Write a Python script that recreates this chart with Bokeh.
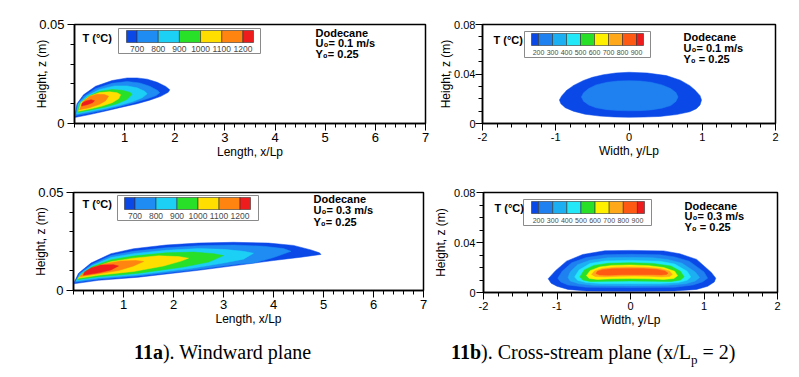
from bokeh.plotting import figure
from bokeh.models import Range1d, FixedTicker, CustomJSTickFormatter, Label, Div
from bokeh.layouts import column, row
from bokeh.embed import file_html
from bokeh.resources import INLINE

# ---------------- data ----------------
LEVELS_A = [700, 800, 900, 1000, 1100, 1200]
COLORS_A = ["#0a48e8", "#1e8cf2", "#1cd0f5", "#28e028", "#ffde00", "#ff8410", "#ee1c1c"]
LEVELS_B = [200, 300, 400, 500, 600, 700, 800, 900]
COLORS_B = ["#0a48e8", "#1f80f0", "#1cb0f2", "#22e8f8", "#28e028", "#fff000",
            "#ffa81a", "#ff5a14", "#ee1c1c"]

X_TICKS_L = [1, 2, 3, 4, 5, 6, 7]
X_TICKS_W = [-2, -1, 0, 1, 2]
Z_TICKS_L = [0, 0.05]
Z_TICKS_W = [0, 0.04, 0.08]

# Panel 1: windward plane, U0 = 0.1 m/s (contours from outer to inner)
P1_BAND = [0, 1, 2, 3, 4, 5, 6]
P1_X = [
    [0.0, 0.3, 0.6, 0.9, 1.25, 1.5, 1.72, 1.87, 1.9, 1.82, 1.65, 1.45, 1.25, 1.05, 0.75, 0.42, 0.18, 0.05, 0.0],
    [0.02, 0.3, 0.6, 0.9, 1.2, 1.45, 1.62, 1.7, 1.65, 1.5, 1.3, 1.05, 0.75, 0.42, 0.19, 0.06, 0.02],
    [0.04, 0.3, 0.6, 0.9, 1.15, 1.35, 1.45, 1.4, 1.25, 1.05, 0.8, 0.5, 0.25, 0.08, 0.04],
    [0.06, 0.3, 0.6, 0.85, 1.05, 1.15, 1.1, 0.95, 0.75, 0.5, 0.28, 0.1, 0.06],
    [0.08, 0.3, 0.55, 0.75, 0.88, 0.92, 0.85, 0.7, 0.5, 0.3, 0.13, 0.08],
    [0.1, 0.3, 0.5, 0.62, 0.68, 0.6, 0.45, 0.3, 0.17, 0.1],
    [0.14, 0.25, 0.36, 0.4, 0.33, 0.22, 0.15, 0.14],
]
P1_Z = [
    [0.0030, 0.0045, 0.0062, 0.0080, 0.0100, 0.0118, 0.0137, 0.0158, 0.0170, 0.0187, 0.0208, 0.0224, 0.0230, 0.0230, 0.0217, 0.0188, 0.0145, 0.0100, 0.0030],
    [0.0040, 0.0053, 0.0068, 0.0086, 0.0106, 0.0125, 0.0140, 0.0155, 0.0168, 0.0188, 0.0205, 0.0212, 0.0203, 0.0176, 0.0138, 0.0098, 0.0040],
    [0.0048, 0.0060, 0.0075, 0.0092, 0.0110, 0.0130, 0.0150, 0.0163, 0.0180, 0.0190, 0.0190, 0.0172, 0.0140, 0.0100, 0.0048],
    [0.0055, 0.0067, 0.0082, 0.0100, 0.0122, 0.0148, 0.0158, 0.0168, 0.0172, 0.0163, 0.0138, 0.0100, 0.0055],
    [0.0062, 0.0073, 0.0088, 0.0105, 0.0125, 0.0145, 0.0155, 0.0160, 0.0156, 0.0138, 0.0105, 0.0062],
    [0.0070, 0.0080, 0.0097, 0.0115, 0.0138, 0.0146, 0.0148, 0.0136, 0.0110, 0.0070],
    [0.0088, 0.0095, 0.0105, 0.0115, 0.0120, 0.0113, 0.0102, 0.0088],
]

# Panel 2: cross-stream plane, U0 = 0.1 m/s
P2_BAND = [0, 1]
P2_X = [
    [-0.95, -0.93, -0.87, -0.76, -0.6, -0.4, -0.2, 0.0, 0.2, 0.42, 0.65, 0.83, 0.92, 0.97, 0.99, 0.97, 0.9, 0.83, 0.7, 0.51, 0.25, 0.0, -0.18, -0.35, -0.5, -0.62, -0.75, -0.85, -0.92, -0.95],
    [-0.65, -0.62, -0.55, -0.45, -0.3, -0.15, 0.0, 0.15, 0.3, 0.45, 0.57, 0.64, 0.67, 0.64, 0.57, 0.45, 0.3, 0.15, 0.0, -0.15, -0.3, -0.45, -0.55, -0.62, -0.65],
]
P2_Z = [
    [0.0190, 0.0160, 0.0128, 0.0100, 0.0075, 0.0060, 0.0053, 0.0050, 0.0052, 0.0057, 0.0072, 0.0095, 0.0120, 0.0150, 0.0190, 0.0225, 0.0270, 0.0306, 0.0350, 0.0387, 0.0408, 0.0414, 0.0408, 0.0394, 0.0373, 0.0348, 0.0310, 0.0268, 0.0222, 0.0190],
    [0.0215, 0.0180, 0.0150, 0.0127, 0.0112, 0.0105, 0.0103, 0.0104, 0.0110, 0.0124, 0.0145, 0.0178, 0.0215, 0.0250, 0.0282, 0.0312, 0.0333, 0.0343, 0.0346, 0.0343, 0.0333, 0.0312, 0.0282, 0.0248, 0.0215],
]

# Panel 3: windward plane, U0 = 0.3 m/s
P3_BAND = [0, 1, 2, 3, 4, 5, 6]
P3_X = [
    [0.0, 0.5, 1.3, 2.5, 3.5, 4.0, 4.55, 4.95, 4.92, 4.75, 4.4, 3.9, 3.2, 2.5, 1.85, 1.2, 0.75, 0.35, 0.1, 0.0],
    [0.03, 0.5, 1.3, 2.5, 3.3, 3.6, 4.0, 4.35, 4.2, 3.8, 3.2, 2.5, 1.85, 1.2, 0.75, 0.36, 0.12, 0.03],
    [0.05, 0.5, 1.3, 2.4, 3.0, 3.4, 3.6, 3.4, 3.0, 2.5, 1.85, 1.2, 0.75, 0.37, 0.14, 0.05],
    [0.07, 0.5, 1.3, 2.2, 2.7, 3.0, 2.8, 2.4, 1.85, 1.2, 0.75, 0.38, 0.16, 0.07],
    [0.09, 0.5, 1.2, 1.8, 2.15, 2.3, 2.1, 1.7, 1.2, 0.75, 0.4, 0.18, 0.09],
    [0.12, 0.5, 0.9, 1.2, 1.4, 1.25, 0.95, 0.65, 0.38, 0.2, 0.12],
    [0.2, 0.5, 0.75, 0.9, 0.8, 0.55, 0.35, 0.22, 0.2],
]
P3_Z = [
    [0.0034, 0.0052, 0.0068, 0.0103, 0.0136, 0.0153, 0.0170, 0.0184, 0.0192, 0.0207, 0.0230, 0.0242, 0.0246, 0.0242, 0.0232, 0.0213, 0.0188, 0.0140, 0.0088, 0.0034],
    [0.0042, 0.0058, 0.0074, 0.0108, 0.0135, 0.0140, 0.0168, 0.0200, 0.0214, 0.0226, 0.0232, 0.0228, 0.0218, 0.0200, 0.0178, 0.0133, 0.0087, 0.0042],
    [0.0048, 0.0064, 0.0080, 0.0115, 0.0140, 0.0160, 0.0190, 0.0200, 0.0210, 0.0214, 0.0205, 0.0188, 0.0168, 0.0127, 0.0085, 0.0048],
    [0.0055, 0.0070, 0.0088, 0.0120, 0.0145, 0.0178, 0.0188, 0.0196, 0.0192, 0.0176, 0.0157, 0.0122, 0.0084, 0.0055],
    [0.0062, 0.0078, 0.0097, 0.0125, 0.0150, 0.0165, 0.0173, 0.0177, 0.0165, 0.0147, 0.0117, 0.0084, 0.0062],
    [0.0070, 0.0085, 0.0102, 0.0125, 0.0148, 0.0153, 0.0150, 0.0138, 0.0113, 0.0088, 0.0070],
    [0.0078, 0.0090, 0.0105, 0.0125, 0.0132, 0.0130, 0.0115, 0.0095, 0.0078],
]

# Panel 4: cross-stream plane, U0 = 0.3 m/s
P4_BAND = [0, 1, 2, 3, 4, 5, 6, 7]
P4_X = [
    [-1.12, -1.08, -1.0, -0.85, -0.6, 0.0, 0.6, 0.9, 1.05, 1.14, 1.16, 1.1, 0.9, 0.67, 0.45, 0.0, -0.35, -0.65, -0.87, -1.02, -1.12],
    [-0.99, -0.95, -0.85, -0.6, 0.0, 0.6, 0.85, 0.98, 1.05, 1.0, 0.8, 0.6, 0.4, 0.0, -0.35, -0.6, -0.8, -0.93, -0.99],
    [-0.85, -0.82, -0.7, -0.5, 0.0, 0.5, 0.75, 0.88, 0.94, 0.88, 0.7, 0.5, 0.3, 0.0, -0.3, -0.55, -0.72, -0.82, -0.85],
    [-0.76, -0.72, -0.6, -0.4, 0.0, 0.4, 0.65, 0.77, 0.82, 0.77, 0.6, 0.4, 0.0, -0.35, -0.55, -0.7, -0.76],
    [-0.69, -0.65, -0.55, -0.3, 0.0, 0.3, 0.55, 0.68, 0.73, 0.68, 0.55, 0.3, 0.0, -0.3, -0.5, -0.63, -0.69],
    [-0.6, -0.56, -0.45, -0.25, 0.0, 0.25, 0.45, 0.59, 0.64, 0.6, 0.45, 0.25, 0.0, -0.25, -0.42, -0.55, -0.6],
    [-0.53, -0.48, -0.35, -0.15, 0.05, 0.25, 0.42, 0.53, 0.57, 0.53, 0.4, 0.2, 0.0, -0.2, -0.38, -0.49, -0.53],
    [-0.47, -0.42, -0.3, -0.1, 0.1, 0.3, 0.42, 0.49, 0.51, 0.47, 0.35, 0.15, -0.05, -0.25, -0.38, -0.45, -0.47],
]
P4_Z = [
    [0.0110, 0.0075, 0.0050, 0.0025, 0.0013, 0.0010, 0.0013, 0.0025, 0.0050, 0.0085, 0.0115, 0.0160, 0.0265, 0.0310, 0.0333, 0.0337, 0.0334, 0.0304, 0.0251, 0.0175, 0.0110],
    [0.0115, 0.0085, 0.0060, 0.0042, 0.0040, 0.0042, 0.0060, 0.0085, 0.0115, 0.0165, 0.0250, 0.0285, 0.0302, 0.0306, 0.0302, 0.0280, 0.0238, 0.0170, 0.0115],
    [0.0120, 0.0092, 0.0070, 0.0058, 0.0055, 0.0058, 0.0070, 0.0092, 0.0120, 0.0165, 0.0235, 0.0265, 0.0278, 0.0281, 0.0278, 0.0258, 0.0222, 0.0165, 0.0120],
    [0.0125, 0.0098, 0.0080, 0.0073, 0.0072, 0.0073, 0.0080, 0.0098, 0.0125, 0.0170, 0.0228, 0.0250, 0.0257, 0.0252, 0.0232, 0.0180, 0.0125],
    [0.0125, 0.0100, 0.0088, 0.0090, 0.0092, 0.0090, 0.0088, 0.0100, 0.0125, 0.0170, 0.0212, 0.0233, 0.0238, 0.0234, 0.0217, 0.0180, 0.0125],
    [0.0135, 0.0112, 0.0105, 0.0110, 0.0112, 0.0110, 0.0105, 0.0112, 0.0135, 0.0170, 0.0200, 0.0215, 0.0220, 0.0217, 0.0204, 0.0175, 0.0135],
    [0.0145, 0.0128, 0.0125, 0.0130, 0.0132, 0.0130, 0.0125, 0.0128, 0.0145, 0.0172, 0.0193, 0.0202, 0.0205, 0.0203, 0.0193, 0.0172, 0.0145],
    [0.0152, 0.0140, 0.0138, 0.0142, 0.0143, 0.0142, 0.0140, 0.0145, 0.0155, 0.0172, 0.0186, 0.0192, 0.0193, 0.0191, 0.0183, 0.0170, 0.0152],
]

FUEL = "Dodecane"
INFO_1 = ["U\u2080= 0.1 m/s", "Y\u2080= 0.25"]
INFO_2 = ["U\u2080= 0.1 m/s", "Y\u2080 = 0.25"]
INFO_3 = ["U\u2080= 0.3 m/s", "Y\u2080= 0.25"]
INFO_4 = ["U\u2080= 0.3 m/s", "Y\u2080 = 0.25"]

# ---------------- styling / layout ----------------
FONT = "Liberation Sans"


def build(canvas, frame, xr, zr, xticks, xminor, zticks, zminor, xlabel,
          tick_fs, zlabel_standoff, zlabel_tick_standoff):
    cl, ct, cw, ch = canvas
    L, R, T, B = frame
    p = figure(frame_width=R - L, frame_height=B - T,
               min_border_left=L - cl, min_border_right=cl + cw - R,
               min_border_top=T - ct, min_border_bottom=ct + ch - B,
               x_range=Range1d(*xr), y_range=Range1d(*zr),
               output_backend="svg", toolbar_location=None,
               background_fill_color="white", border_fill_color="white")
    p.grid.visible = False
    p.outline_line_color = "black"
    p.outline_line_width = 1.5
    p.outline_line_alpha = 1.0
    for ax in (p.xaxis[0], p.yaxis[0]):
        ax.axis_line_width = 1.5
        ax.axis_line_color = "black"
        ax.major_tick_in = 0
        ax.major_tick_out = 7
        ax.minor_tick_in = 0
        ax.minor_tick_out = 4
        ax.major_tick_line_color = "black"
        ax.minor_tick_line_color = "black"
        ax.major_label_text_font = FONT
        ax.major_label_text_font_size = tick_fs
        ax.major_label_text_color = "black"
        ax.axis_label_text_font = FONT
        ax.axis_label_text_font_size = "12px"
        ax.axis_label_text_font_style = "normal"
        ax.axis_label_text_color = "black"
    p.xaxis[0].ticker = FixedTicker(ticks=xticks, minor_ticks=xminor)
    p.yaxis[0].ticker = FixedTicker(ticks=zticks, minor_ticks=zminor)
    p.xaxis[0].formatter = CustomJSTickFormatter(code="return String(tick);")
    p.yaxis[0].formatter = CustomJSTickFormatter(
        code="return String(Math.round(tick * 1000) / 1000);")
    p.xaxis[0].axis_label = xlabel
    p.yaxis[0].axis_label = "Height, z (m)"
    p.xaxis[0].major_label_standoff = 2
    p.xaxis[0].axis_label_standoff = 0
    p.yaxis[0].major_label_standoff = zlabel_tick_standoff
    p.yaxis[0].axis_label_standoff = zlabel_standoff

    def cx(px):
        return xr[0] + (px - L) / (R - L) * (xr[1] - xr[0])

    def cz(py):
        return zr[0] + (B - py) / (B - T) * (zr[1] - zr[0])

    return p, cx, cz


def draw_bands(p, xs, zs, bands, colors):
    for x, z, b in zip(xs, zs, bands):
        p.patch(x, z, fill_color=colors[b], line_color=colors[b], line_width=0.5)


def add_legend(p, cx, cz, box, bar, levels, colors, label_y, label_fs, title_xy,
               info_xy, info_dy, info_lines):
    p.quad(left=[cx(box[0])], right=[cx(box[1])], top=[cz(box[2])], bottom=[cz(box[3])],
           fill_color="white", line_color="#8a8a8a", line_width=1)
    step = levels[1] - levels[0]
    lo = levels[0] - step / 2
    hi = levels[-1] + step / 2
    edges = [lo] + list(levels) + [hi]
    bl, br, bt, bb = bar

    def lx(v):
        return bl + (v - lo) / (hi - lo) * (br - bl)

    p.quad(left=[cx(lx(a)) for a in edges[:-1]], right=[cx(lx(b)) for b in edges[1:]],
           top=cz(bt), bottom=cz(bb), fill_color=colors, line_color="#333333",
           line_width=0.6)
    for v in levels:
        p.add_layout(Label(x=cx(lx(v)), y=cz(label_y), text=str(v), text_align="center",
                           text_baseline="middle", text_font=FONT,
                           text_font_size=label_fs, text_color="#4a4a4a"))
    p.add_layout(Label(x=cx(title_xy[0]), y=cz(title_xy[1]), text="T (\u00b0C)",
                       text_align="left", text_baseline="middle", text_font=FONT,
                       text_font_size="11px", text_font_style="bold", text_color="black"))
    lines = [FUEL] + list(info_lines)
    for i, t in enumerate(lines):
        p.add_layout(Label(x=cx(info_xy[0]), y=cz(info_xy[1] + i * info_dy), text=t,
                           text_align="left", text_baseline="middle", text_font=FONT,
                           text_font_size="11px", text_font_style="bold",
                           text_color="black"))


x_minor_L = [round(0.2 * i, 1) for i in range(36)]
x_minor_W = [round(-2 + 0.2 * i, 1) for i in range(21)]
z_minor_L = [round(0.01 * i, 2) for i in range(6)]
z_minor_W = [round(0.01 * i, 2) for i in range(9)]

# Panel 1
p1, c1x, c1z = build((0, 0, 432, 170), (74, 425, 24, 123), (0, 7), (0, 0.05),
                     X_TICKS_L, x_minor_L, Z_TICKS_L, z_minor_L, "Length, x/Lp",
                     "13px", -13, 3)
draw_bands(p1, P1_X, P1_Z, P1_BAND, COLORS_A)
add_legend(p1, c1x, c1z, (118, 260, 28, 53), (126, 253, 30, 42), LEVELS_A, COLORS_A,
           48.5, "8.5px", (82, 37), (315, 32), 10.7, INFO_1)

# Panel 2
p2, c2x, c2z = build((432, 0, 353, 170), (482, 775, 24, 123), (-2, 2), (0, 0.08),
                     X_TICKS_W, x_minor_W, Z_TICKS_W, z_minor_W, "Width, y/Lp",
                     "11px", -2, 0)
draw_bands(p2, P2_X, P2_Z, P2_BAND, COLORS_B)
add_legend(p2, c2x, c2z, (524, 650, 31, 57), (531, 643, 33, 45), LEVELS_B, COLORS_B,
           52, "7px", (493, 39), (683, 36), 11, INFO_2)

# Panel 3
p3, c3x, c3z = build((0, 170, 431, 160), (73, 423, 192, 290), (0, 7), (0, 0.05),
                     X_TICKS_L, x_minor_L, Z_TICKS_L, z_minor_L, "Length, x/Lp",
                     "13px", -13, 3)
draw_bands(p3, P3_X, P3_Z, P3_BAND, COLORS_A)
add_legend(p3, c3x, c3z, (117, 258, 195, 220), (124, 250, 197, 209), LEVELS_A, COLORS_A,
           215, "8.5px", (82, 203), (313, 198), 11.5, INFO_3)

# Panel 4
p4, c4x, c4z = build((431, 170, 354, 160), (479, 773, 188, 288), (-2, 2), (0, 0.08),
                     X_TICKS_W, x_minor_W, Z_TICKS_W, z_minor_W, "Width, y/Lp",
                     "11px", 3, 1)
draw_bands(p4, P4_X, P4_Z, P4_BAND, COLORS_B)
add_legend(p4, c4x, c4z, (519, 647, 195, 221), (527, 640, 197, 209), LEVELS_B, COLORS_B,
           216, "7px", (490, 203), (680, 201), 10.5, INFO_4)

caption = Div(text=(
    '<div style="position:relative;width:785px;height:40px;'
    'font-family:\'Liberation Serif\',\'Times New Roman\',serif;font-size:20px;color:#000;">'
    '<span style="position:absolute;left:129px;top:3px;white-space:nowrap;">'
    '<b>11a</b>). Windward plane</span>'
    '<span style="position:absolute;left:446px;top:3px;white-space:nowrap;">'
    '<b>11b</b>). Cross-stream plane (x/L<sub style="font-size:13px;">p</sub> = 2)</span>'
    '</div>'), width=785, height=40)

layout = column(row(p1, p2), row(p3, p4), caption)

open("out.html", "w").write(file_html(layout, INLINE))
